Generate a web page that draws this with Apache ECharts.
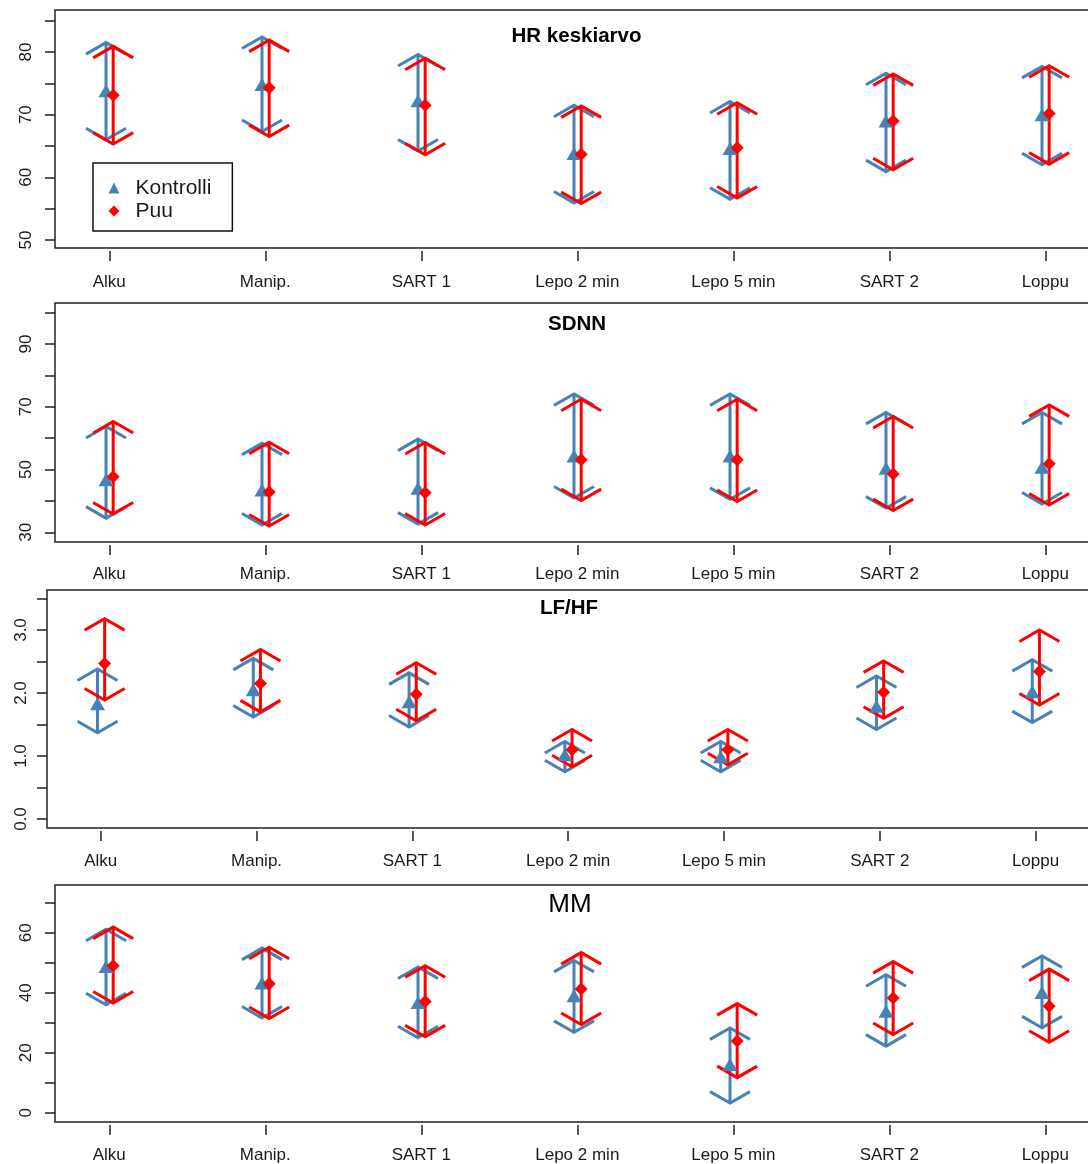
<!DOCTYPE html>
<html><head><meta charset="utf-8">
<script src="https://cdn.jsdelivr.net/npm/echarts@6/dist/echarts.min.js"></script>
<style>html,body{margin:0;padding:0;background:#fff;overflow:hidden}#c{width:1110px;height:1164px}</style>
</head><body><div id="c"></div>
<script>
// ---- data ----
const categories = ['Alku', 'Manip.', 'SART 1', 'Lepo 2 min', 'Lepo 5 min', 'SART 2', 'Loppu'];
const seriesNames = ['Kontrolli', 'Puu'];

const hrKontrolliMean = [73.8, 74.8, 72.2, 63.8, 64.6, 69.0, 70.0];
const hrKontrolliLo   = [66.0, 67.3, 64.2, 55.9, 56.5, 60.9, 62.0];
const hrKontrolliHi   = [81.5, 82.4, 79.6, 71.5, 72.1, 76.6, 77.7];
const hrPuuMean = [73.1, 74.3, 71.5, 63.7, 64.7, 69.0, 70.2];
const hrPuuLo   = [65.3, 66.5, 63.6, 55.8, 56.7, 61.2, 62.1];
const hrPuuHi   = [80.9, 81.9, 79.0, 71.4, 71.9, 76.5, 77.8];

const sdnnKontrolliMean = [46.7, 43.5, 44.0, 54.3, 54.3, 50.4, 50.7];
const sdnnKontrolliLo   = [34.5, 32.3, 32.6, 40.9, 40.5, 37.7, 39.0];
const sdnnKontrolliHi   = [63.7, 58.4, 59.7, 74.1, 74.1, 68.2, 68.2];
const sdnnPuuMean = [47.7, 42.8, 42.6, 53.1, 53.1, 48.6, 51.8];
const sdnnPuuLo   = [35.8, 32.0, 32.3, 40.1, 39.8, 36.9, 38.7];
const sdnnPuuHi   = [65.3, 58.7, 58.6, 72.4, 72.4, 66.9, 70.6];

const lfhfKontrolliMean = [1.83, 2.05, 1.86, 1.02, 0.99, 1.79, 2.02];
const lfhfKontrolliLo   = [1.37, 1.62, 1.46, 0.75, 0.75, 1.42, 1.53];
const lfhfKontrolliHi   = [2.38, 2.55, 2.32, 1.23, 1.23, 2.27, 2.53];
const lfhfPuuMean = [2.47, 2.15, 1.98, 1.10, 1.10, 2.01, 2.34];
const lfhfPuuLo   = [1.89, 1.70, 1.56, 0.83, 0.86, 1.60, 1.81];
const lfhfPuuHi   = [3.18, 2.69, 2.48, 1.42, 1.42, 2.51, 3.00];

const mmKontrolliMean = [48.8, 43.3, 36.8, 39.0, 16.1, 33.8, 40.1];
const mmKontrolliLo   = [36.0, 31.6, 25.0, 26.8, 3.2, 22.2, 28.3];
const mmKontrolliHi   = [61.2, 54.9, 48.6, 50.8, 28.3, 46.0, 52.3];
const mmPuuMean = [49.0, 43.0, 37.1, 41.3, 23.9, 38.3, 35.5];
const mmPuuLo   = [36.6, 31.4, 25.3, 29.4, 11.7, 26.1, 23.5];
const mmPuuHi   = [61.9, 55.2, 49.0, 53.4, 36.4, 50.4, 47.9];

const hrTicks = [50, 55, 60, 65, 70, 75, 80, 85];
const hrLabels = [50, 60, 70, 80];
const sdnnTicks = [30, 40, 50, 60, 70, 80, 90, 100];
const sdnnLabels = [30, 50, 70, 90];
const lfhfTicks = [0, 0.5, 1, 1.5, 2, 2.5, 3, 3.5];
const lfhfLabels = [0, 1, 2, 3];
const mmTicks = [0, 10, 20, 30, 40, 50, 60, 70];
const mmLabels = [0, 20, 40, 60];
const xPositions = [1, 2, 3, 4, 5, 6, 7];

// ---- layout / style ----
const FONT = '"Liberation Sans", Arial, sans-serif';
const BLUE = '#4682B4', RED = '#FF0000', INK = '#1a1a1a';
const KOFF = -0.021, POFF = 0.025;

const panels = [
  { title: 'HR keskiarvo', bold: true, tSize: 20.5, tx: 576.5, ty: 26,
    grid: { left: 55, top: 10, height: 238, right: 12 }, xmin: 0.652, xmax: 7.338,
    ymin: 48.72, ymax: 86.7, ticks: hrTicks, labels: hrLabels, dec: 0, lmargin: 20, xmargin: 23,
    k: [hrKontrolliMean, hrKontrolliLo, hrKontrolliHi], p: [hrPuuMean, hrPuuLo, hrPuuHi] },
  { title: 'SDNN', bold: true, tSize: 20.5, tx: 577, ty: 314,
    grid: { left: 55, top: 303, height: 239, right: 12 }, xmin: 0.652, xmax: 7.338,
    ymin: 26.9, ymax: 103.07, ticks: sdnnTicks, labels: sdnnLabels, dec: 0, lmargin: 20, xmargin: 21,
    k: [sdnnKontrolliMean, sdnnKontrolliLo, sdnnKontrolliHi], p: [sdnnPuuMean, sdnnPuuLo, sdnnPuuHi] },
  { title: 'LF/HF', bold: true, tSize: 20.5, tx: 569, ty: 598,
    grid: { left: 47, top: 590, height: 238, right: 19 }, xmin: 0.655, xmax: 7.356,
    ymin: -0.143, ymax: 3.635, ticks: lfhfTicks, labels: lfhfLabels, dec: 1, lmargin: 17, xmargin: 22,
    k: [lfhfKontrolliMean, lfhfKontrolliLo, lfhfKontrolliHi], p: [lfhfPuuMean, lfhfPuuLo, lfhfPuuHi] },
  { title: 'MM', bold: false, tSize: 26, tx: 570, ty: 892,
    grid: { left: 55, top: 885, height: 238, right: 12 }, xmin: 0.652, xmax: 7.338,
    ymin: -3.09, ymax: 75.94, ticks: mmTicks, labels: mmLabels, dec: 0, lmargin: 20, xmargin: 22,
    k: [mmKontrolliMean, mmKontrolliLo, mmKontrolliHi], p: [mmPuuMean, mmPuuLo, mmPuuHi] }
];

function errRender(color) {
  return function (params, api) {
    const x = api.value(0), lo = api.value(1), hi = api.value(2);
    const a = api.coord([x, lo]), b = api.coord([x, hi]);
    const dx = 20, dy = 11.5;
    const style = { stroke: color, lineWidth: 3, fill: null, lineCap: 'butt', lineJoin: 'miter' };
    return { type: 'group', children: [
      { type: 'line', shape: { x1: a[0], y1: a[1], x2: b[0], y2: b[1] }, style },
      { type: 'polyline', shape: { points: [[b[0] - dx, b[1] + dy], [b[0], b[1]], [b[0] + dx, b[1] + dy]] }, style },
      { type: 'polyline', shape: { points: [[a[0] - dx, a[1] - dy], [a[0], a[1]], [a[0] + dx, a[1] - dy]] }, style }
    ]};
  };
}

const option = {
  backgroundColor: '#fff',
  animation: false,
  title: [], grid: [], xAxis: [], yAxis: [], series: [],
  legend: {
    data: [{ name: 'Kontrolli', icon: 'triangle' }, { name: 'Puu', icon: 'diamond' }],
    orient: 'vertical', left: 93, top: 163,
    itemWidth: 11, itemHeight: 11, itemGap: 0,
    padding: [13.5, 21, 8.5, 15.5],
    backgroundColor: '#fff', borderColor: '#111', borderWidth: 1.5, borderRadius: 0,
    selectedMode: false,
    textStyle: { fontFamily: FONT, fontSize: 21, color: INK, lineHeight: 23, padding: [0, 0, 0, 11] }
  }
};

panels.forEach((pn, g) => {
  option.title.push({
    text: pn.title, left: pn.tx, top: pn.ty, textAlign: 'center', padding: 0,
    textStyle: { fontFamily: FONT, fontSize: pn.tSize, fontWeight: pn.bold ? 'bold' : 'normal', color: '#000' }
  });
  option.grid.push(Object.assign({ show: true, borderColor: '#222', borderWidth: 1.5, backgroundColor: 'transparent' }, pn.grid));
  option.xAxis.push({
    type: 'value', gridIndex: g, position: 'bottom', min: pn.xmin, max: pn.xmax,
    axisLine: { show: false }, axisTick: { show: false }, axisLabel: { show: false }, splitLine: { show: false }
  });
  option.xAxis.push({
    type: 'value', gridIndex: g, position: 'bottom', offset: 3, min: pn.xmin, max: pn.xmax,
    axisLine: { show: false }, splitLine: { show: false },
    axisTick: { show: true, length: 10, customValues: xPositions, lineStyle: { color: '#222', width: 1.5 } },
    axisLabel: { show: true, customValues: xPositions, margin: pn.xmargin,
      formatter: v => categories[Math.round(v) - 1] || '',
      fontFamily: FONT, fontSize: 17, color: INK }
  });
  option.yAxis.push({
    type: 'value', gridIndex: g, min: pn.ymin, max: pn.ymax,
    axisLine: { show: false }, splitLine: { show: false },
    axisTick: { show: true, length: 10, customValues: pn.ticks, lineStyle: { color: '#222', width: 1.5 } },
    axisLabel: { show: true, customValues: pn.labels, rotate: 90, margin: pn.lmargin,
      formatter: v => Number(v).toFixed(pn.dec),
      fontFamily: FONT, fontSize: 17, color: INK }
  });
  const xi = g * 2, yi = g;
  const kErr = categories.map((c, i) => [xPositions[i] + KOFF, pn.k[1][i], pn.k[2][i]]);
  const pErr = categories.map((c, i) => [xPositions[i] + POFF, pn.p[1][i], pn.p[2][i]]);
  const kPts = categories.map((c, i) => [xPositions[i] + KOFF, pn.k[0][i]]);
  const pPts = categories.map((c, i) => [xPositions[i] + POFF, pn.p[0][i]]);
  option.series.push(
    { type: 'custom', name: 'Kontrolli CI', xAxisIndex: xi, yAxisIndex: yi, renderItem: errRender(BLUE), data: kErr, itemStyle: { color: BLUE }, clip: false, z: 2 },
    { type: 'custom', name: 'Puu CI', xAxisIndex: xi, yAxisIndex: yi, renderItem: errRender(RED), data: pErr, itemStyle: { color: RED }, clip: false, z: 3 },
    { type: 'scatter', name: 'Kontrolli', xAxisIndex: xi, yAxisIndex: yi, data: kPts, symbol: 'triangle', symbolSize: [15, 13], itemStyle: { color: BLUE, opacity: 1 }, z: 4 },
    { type: 'scatter', name: 'Puu', xAxisIndex: xi, yAxisIndex: yi, data: pPts, symbol: 'diamond', symbolSize: [13, 13], itemStyle: { color: RED, opacity: 1 }, z: 5 }
  );
});

const chart = echarts.init(document.getElementById('c'), null, { renderer: 'canvas', width: 1110, height: 1164 });
chart.setOption(option);
</script>
</body></html>
